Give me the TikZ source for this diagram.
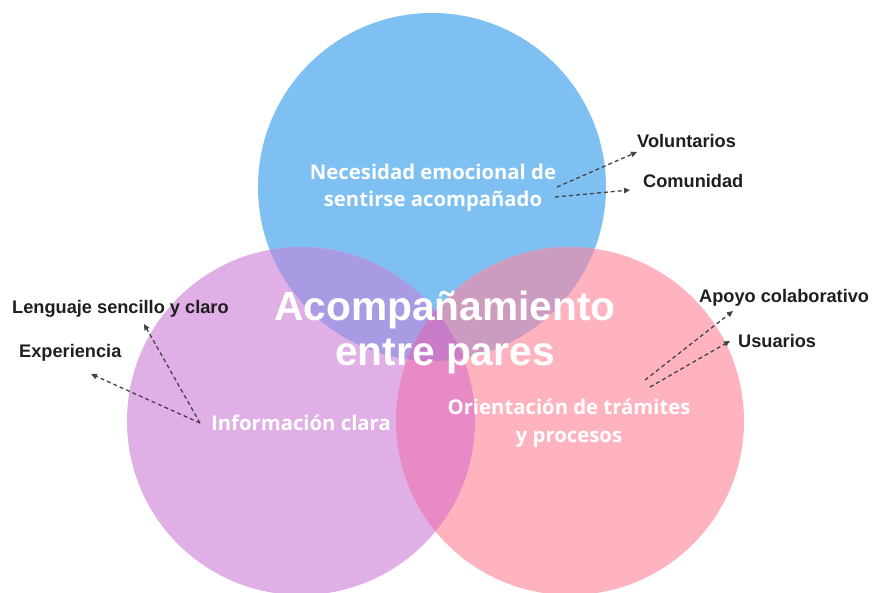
\documentclass[tikz,border=0pt]{standalone}
\usepackage{fontspec}
\setmainfont{Liberation Sans}
\newfontfamily\osans{Open Sans}
\usetikzlibrary{arrows.meta}
\definecolor{cblue}{HTML}{7EC0F2}
\definecolor{cpurple}{HTML}{E0AFE5}
\definecolor{cpink}{HTML}{FFB3BF}
\definecolor{cbp}{HTML}{A89BE3}
\definecolor{cbk}{HTML}{CC9BC0}
\definecolor{cpk}{HTML}{E88AC6}
\definecolor{call}{HTML}{C87CC8}
\definecolor{arrowgray}{HTML}{444444}
\tikzset{
  conn/.style={draw=arrowgray, line width=1.3pt, dash pattern=on 4pt off 3pt,
    -{Triangle[length=6pt,width=5.5pt]}},
  lbl/.style={font=\bfseries\fontsize{18.2}{20}\selectfont, text=black!88, inner sep=0pt, anchor=base west},
  inner/.style={font=\osans\bfseries\fontsize{20.3}{22}\selectfont, text=white, inner sep=0pt, anchor=base},
  title/.style={font=\bfseries\fontsize{40.7}{44}\selectfont, text=white, inner sep=0pt, anchor=base},
}
\begin{document}
\begin{tikzpicture}[x=1pt,y=-1pt]
\useasboundingbox (0,0) rectangle (874,592);
\fill[white] (0,0) rectangle (874,592);
\coordinate (B) at (432,187);
\coordinate (P) at (301,421);
\coordinate (K) at (570,421);
\def\R{174pt}
\fill[cblue] (B) circle (\R);
\fill[cpurple] (P) circle (\R);
\fill[cpink] (K) circle (\R);
\begin{scope}\clip (B) circle (\R); \fill[cbp] (P) circle (\R); \end{scope}
\begin{scope}\clip (B) circle (\R); \fill[cbk] (K) circle (\R); \end{scope}
\begin{scope}\clip (P) circle (\R); \fill[cpk] (K) circle (\R); \end{scope}
\begin{scope}\clip (B) circle (\R); \clip (P) circle (\R); \fill[call] (K) circle (\R); \end{scope}

% titles
\node[title] (t1) at (445,320) {Acompañamiento};
\node[title] (t2) at (445,365) {entre pares};

% inner texts
\node[inner] (n1) at (433,179) {Necesidad emocional de};
\node[inner] (n2) at (433,206) {sentirse acompañado};
\node[inner] (info) at (301,430) {Información clara};
\node[inner] (o1) at (569,414) {Orientación de trámites};
\node[inner] (o2) at (569,442) {y procesos};

% labels
\node[lbl] (vol) at (637,147) {Voluntarios};
\node[lbl] (com) at (643,187) {Comunidad};
\node[lbl] (len) at (12,313) {Lenguaje sencillo y claro};
\node[lbl] (exp) at (19,357) {Experiencia};
\node[lbl] (apo) at (699,302) {Apoyo colaborativo};
\node[lbl] (usu) at (738,347) {Usuarios};

% arrow endpoints
\coordinate (sv) at (557,187);
\coordinate (ev) at (637,152);
\coordinate (sc) at (555,197);
\coordinate (ec) at (630,190);
\coordinate (si) at (200,423);
\coordinate (el) at (144,324);
\coordinate (ee) at (91,374);
\coordinate (sa) at (645,380);
\coordinate (ea) at (733,311);
\coordinate (su) at (650,387);
\coordinate (eu) at (730,341);

\draw[conn] (sv) -- (ev);
\draw[conn] (sc) -- (ec);
\draw[conn] (si) -- (el);
\draw[conn] (si) -- (ee);
\draw[conn] (sa) -- (ea);
\draw[conn] (su) -- (eu);
\end{tikzpicture}
\end{document}
